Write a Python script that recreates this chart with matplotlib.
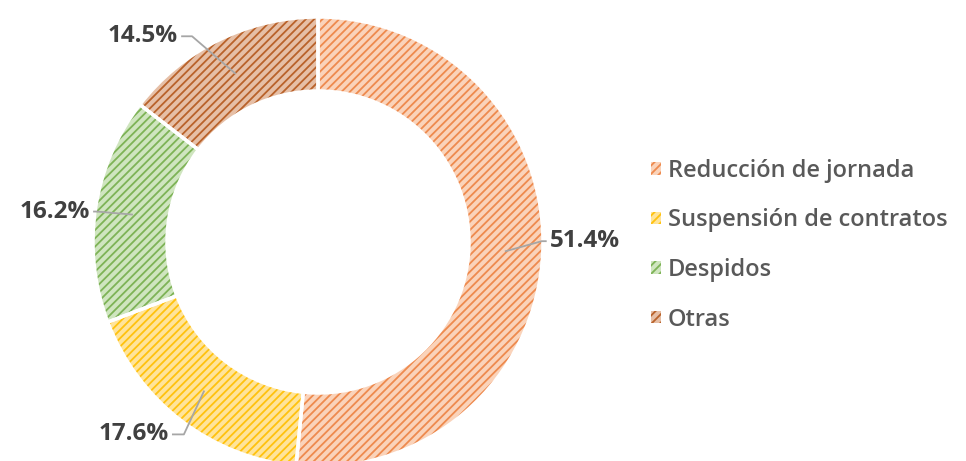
import numpy as np
import matplotlib
matplotlib.use("Agg")
import matplotlib.pyplot as plt
from matplotlib.patches import Patch

categories = ["Reducción de jornada", "Suspensión de contratos", "Despidos", "Otras"]
values = [51.4, 17.6, 16.2, 14.5]
labels = ["51.4%", "17.6%", "16.2%", "14.5%"]

line_colors = ["#EE8A4E", "#FFC20E", "#7DB356", "#B9622A"]
face_colors = ["#FAD3BA", "#FFE49A", "#CFE5BF", "#E6BFA6"]

plt.rcParams["font.family"] = ["Open Sans", "DejaVu Sans"]
plt.rcParams["hatch.linewidth"] = 1.3

fig = plt.figure(figsize=(9.66, 4.61), dpi=100)
ax = fig.add_axes([0, 0, 1, 1])

cx, cy = 318, 461 - 242
R, width = 225, 74

wedges, _ = ax.pie(values, startangle=90, counterclock=False, center=(cx, cy),
                   radius=R, wedgeprops=dict(width=width, linewidth=0), frame=True)
for w, fc, lc in zip(wedges, face_colors, line_colors):
    w.set_facecolor(fc)
    w.set_edgecolor(lc)
    w.set_hatch("////")
    w.set_linewidth(0)
# white separators
ax.pie(values, startangle=90, counterclock=False, center=(cx, cy), radius=R,
       wedgeprops=dict(width=width, facecolor="none", edgecolor="white", linewidth=2.5),
       frame=True)
ax.set_xlim(0, 966)
ax.set_ylim(0, 461)
ax.set_aspect("equal")
ax.axis("off")

# label offsets (elbow and text end, relative to anchor)
elbows = [(36, 10), (-20, -43), (-35, 3), (-43, 37)]
ends = [(40, 10), (-31, -43), (-38, 3), (-53, 37)]
ha = ["left", "right", "right", "right"]
r_mid = R - width / 2
for w, lab, el, en, h in zip(wedges, labels, elbows, ends, ha):
    ang = np.deg2rad((w.theta1 + w.theta2) / 2)
    x0, y0 = cx + r_mid * np.cos(ang), cy + r_mid * np.sin(ang)
    ax.plot([x0, x0 + el[0], x0 + en[0]], [y0, y0 + el[1], y0 + en[1]],
            color="#A6A6A6", lw=1.3)
    tx = x0 + en[0] + (4 if h == "left" else -4)
    ax.text(tx, y0 + en[1], lab, ha=h, va="center", fontsize=17.5,
            fontweight="bold", color="#404040")

handles = [Patch(facecolor=fc, edgecolor=lc, hatch="////", linewidth=0)
           for fc, lc in zip(face_colors, line_colors)]
leg = fig.legend(handles, categories, loc="upper left",
                 bbox_to_anchor=(651 / 966, 1 - 159 / 461),
                 frameon=False, prop=dict(size=17, weight="semibold"),
                 handlelength=0.42, handleheight=0.42,
                 handletextpad=0.3, labelspacing=1.08, borderaxespad=0, borderpad=0)
for t in leg.get_texts():
    t.set_color("#595959")

fig.savefig("out.png", dpi=100)
